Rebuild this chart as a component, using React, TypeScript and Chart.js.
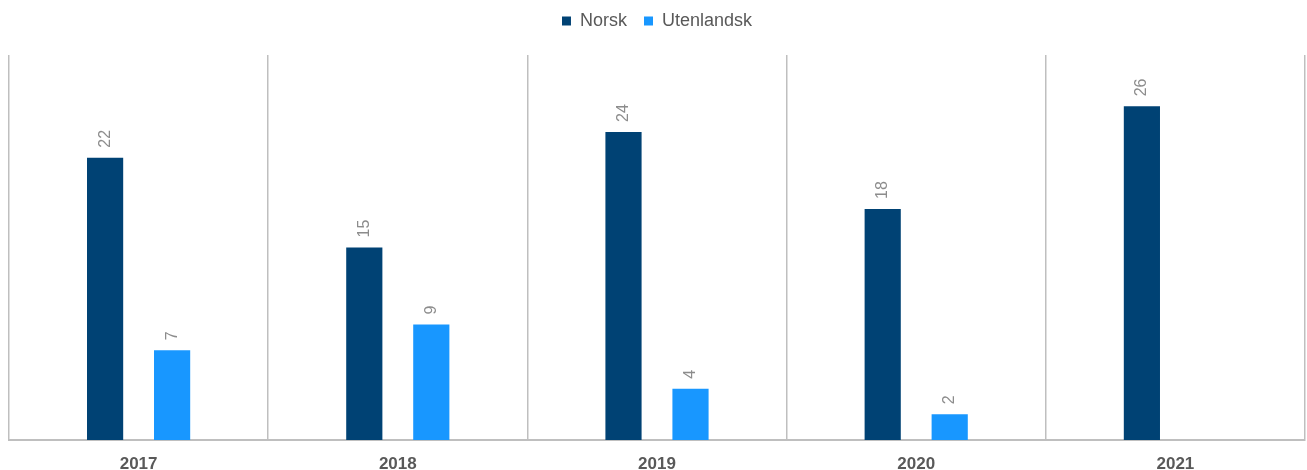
import React, { useEffect, useRef } from "react";
import { Chart, registerables } from "chart.js";

Chart.register(...registerables);

const categories = ["2017", "2018", "2019", "2020", "2021"];
const norsk = [22, 15, 24, 18, 26];
const utenlandsk: (number | null)[] = [7, 9, 4, 2, null];
const seriesNames = ["Norsk", "Utenlandsk"];

const FONT = "'Liberation Sans', Arial, sans-serif";

const valueLabels = {
  id: "valueLabels",
  afterDatasetsDraw(chart: any) {
    const ctx = chart.ctx;
    ctx.save();
    ctx.fillStyle = "#8c8c8c";
    ctx.font = "16px " + FONT;
    ctx.textAlign = "left";
    ctx.textBaseline = "middle";
    chart.data.datasets.forEach((ds: any, di: number) => {
      const meta = chart.getDatasetMeta(di);
      meta.data.forEach((el: any, i: number) => {
        const v = ds.data[i];
        if (v === null || v === undefined) return;
        ctx.save();
        ctx.translate(el.x, el.y - 10);
        ctx.rotate(-Math.PI / 2);
        ctx.fillText(String(v), 0, 0);
        ctx.restore();
      });
    });
    ctx.restore();
  },
};

const legendHeight = {
  id: "legendHeight",
  beforeInit(chart: any) {
    const legend = chart.legend;
    if (!legend) return;
    const orig = legend.fit;
    legend.fit = function () {
      orig.call(this);
      this.height = 60;
    };
  },
};

export default function App() {
  const ref = useRef<HTMLCanvasElement>(null);
  useEffect(() => {
    document.body.style.margin = "0";
    const chart = new Chart(ref.current!, {
      type: "bar",
      data: {
        labels: categories,
        datasets: [
          { label: seriesNames[0], data: norsk, backgroundColor: "#004274", categoryPercentage: 0.517, barPercentage: 0.54 },
          { label: seriesNames[1], data: utenlandsk, backgroundColor: "#1897ff", categoryPercentage: 0.517, barPercentage: 0.54 },
        ],
      },
      options: {
        animation: false,
        responsive: false,
        layout: { padding: { left: 9, right: 2, top: -5, bottom: 0 } },
        plugins: {
          legend: {
            position: "top",
            labels: {
              boxWidth: 9,
              boxHeight: 9,
              color: "#595959",
              padding: 17,
              font: { size: 18, family: FONT },
            },
          },
          tooltip: { enabled: false },
        },
        scales: {
          x: {
            offset: true,
            grid: { offset: true, display: true, color: "#bfbfbf", lineWidth: 1.5, drawTicks: false },
            border: { display: true, color: "#bfbfbf", width: 2 },
            ticks: {
              color: "#595959",
              padding: 14,
              font: { size: 17, weight: "bold", family: FONT },
            },
            afterFit: (scale: any) => {
              scale.height = 30;
            },
          },
          y: {
            display: false,
            min: 0,
            max: 30,
          },
        },
      },
      plugins: [valueLabels, legendHeight],
    });
    return () => chart.destroy();
  }, []);
  return <canvas ref={ref} width={1307} height={470} style={{ display: "block" }} />;
}
